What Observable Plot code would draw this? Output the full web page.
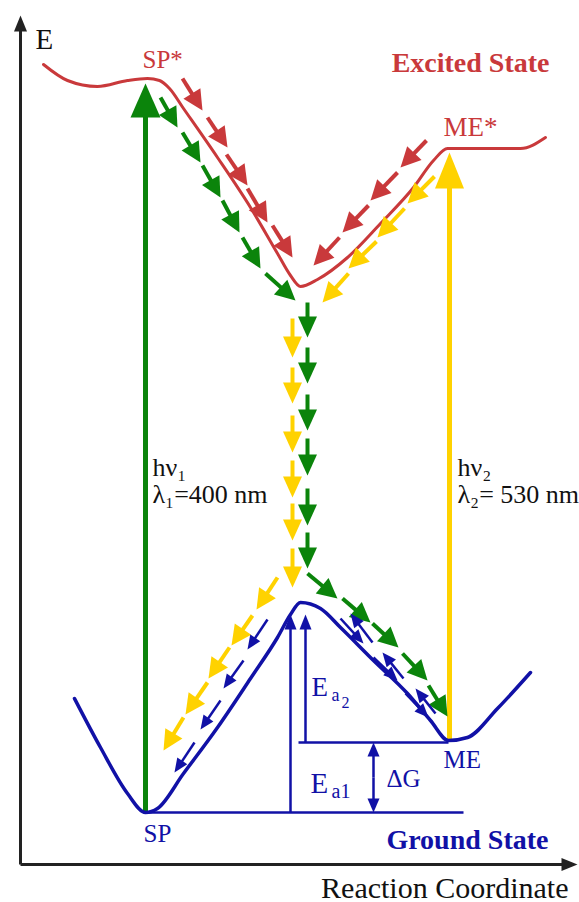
<!DOCTYPE html>
<html><head><meta charset="utf-8">
<script src="https://cdn.jsdelivr.net/npm/d3@7"></script>
<script src="https://cdn.jsdelivr.net/npm/@observablehq/plot@0.6"></script>
<style>body{margin:0;background:#fff}#chart svg{display:block}#chart svg text{font-family:"Liberation Serif",serif !important}</style>
</head><body><div id="chart"></div>
<script>
// Reaction coordinate (x) and energy (y) readings
const excitedCurve = [[24,800],[48,784],[78,778],[108,784],[128,786],[140,784],[150,776],[164,756],[198,707],[231,657],[258,611],[271,589],[281,578],[298,585],[328,607],[361,641],[394,677],[414,704],[428,716],[451,716],[501,716],[526,727]];
const groundCurve = [[55,166],[81,117],[108,71],[126,52],[138,56],[164,91],[198,137],[231,186],[258,227],[271,250],[281,262],[301,256],[321,237],[354,204],[388,171],[411,144],[429,124],[448,127],[478,156],[511,192]];
const levelLines = [[126,52,444,52],[279,122,429,122]];

// Arrow chains: [tailX, tailY, tipX, tipY]
const redChainA = [[163,786,183,754],[188,747,208,717],[207,710,228,679],[228,676,248,642],[253,639,273,607]];
const redChainB = [[407,724,381,697],[378,692,351,664],[349,659,323,632],[320,627,294,599]];
const greenChainC = [[141,767,158,737],[163,732,181,702],[183,699,201,667],[203,664,220,632],[223,627,241,596],[246,591,276,564]];
const greenChainD = [[288,562,288,527],[288,517,288,481],[288,470,288,434],[288,426,288,389],[288,376,288,339],[288,332,288,296]];
const greenChainE = [[288,291,318,266],[323,266,351,242],[353,241,379,217],[383,211,408,184],[409,179,428,148]];
const yellowChainF = [[415,688,388,661],[385,656,358,627],[357,623,329,596],[329,591,303,562]];
const yellowChainG = [[273,546,273,507],[273,497,273,461],[273,449,273,412],[273,404,273,367],[273,361,273,324],[273,316,273,277]];
const yellowChainH = [[258,287,237,255],[233,249,212,219],[210,217,189,186],[188,182,166,150],[164,147,144,114]];
const blueChainI = [[248,245,228,215],[224,204,204,176],[201,164,181,135],[175,122,155,92]];
const blueChainJ = [[321,246,344,221],[354,207,378,184],[386,171,409,147],[353,222,331,251],[384,186,363,212],[416,151,396,176]];

const excitation1 = [[126,52,126,781]];
const excitation2 = [[430,124,430,712]];
const barriers = [[271,52,271,250],[286,122,286,250]];
const deltaG = [[354,87,354,122],[354,87,354,52]];
const axes = [[1,0,1,849],[1,0,558,0]];

// Labels
const axisLabelsStart = [{t:"E", x:16, y:816}];
const axisLabelsEnd = [{t:"Reaction Coordinate", x:549, y:-33}];
const redLabels = [{t:"SP*", x:123, y:797, s:25},{t:"ME*", x:424, y:729, s:27}];
const excitedTitle = [{t:"Excited State", x:530, y:793}];
const groundTitle = [{t:"Ground State", x:529, y:16}];
const blueLabels = [{t:"SP", x:124, y:23},{t:"ME", x:424, y:97},{t:"ΔG", x:367, y:78}];
const eaMain = [{t:"E", x:292, y:169, s:27},{t:"E", x:291, y:72, s:29}];
const eaSub = [{t:"a", x:312, y:164, s:18},{t:"a1", x:312, y:67, s:20}];
const eaSubSub = [{t:"2", x:322, y:157}];
const photonLeft = [{t:"hν₁", x:133, y:389},{t:"λ₁=400 nm", x:133, y:362}];
const photonRight = [{t:"hν₂", x:438, y:389},{t:"λ₂= 530 nm", x:438, y:362}];

const RED = "#c9393b", GREEN = "#0b840b", YELLOW = "#ffd200", BLUE = "#1111a6", AXIS = "#222";

function tri(len, half) {
  return {draw(ctx) { ctx.moveTo(0, 0); ctx.lineTo(-half, len); ctx.lineTo(half, len); ctx.closePath(); }};
}
function arrows(data, color, sw, len, half) {
  const shafts = data.map(([x1,y1,x2,y2]) => {
    const dx = x2-x1, dy = y2-y1, L = Math.hypot(dx, dy), b = len*0.7;
    return {x1, y1, x2: x2 - dx/L*b, y2: y2 - dy/L*b};
  });
  const heads = data.map(([x1,y1,x2,y2]) => ({x: x2, y: y2, a: Math.atan2(x2-x1, y2-y1)*180/Math.PI}));
  return [
    Plot.link(shafts, {x1:"x1", y1:"y1", x2:"x2", y2:"y2", stroke: color, strokeWidth: sw, strokeLinecap: "butt"}),
    Plot.vector(heads, {x:"x", y:"y", rotate:"a", length: len, anchor:"start", shape: tri(len, half), fill: color, stroke: "none"})
  ];
}
const F = "'Liberation Serif', serif";
function txt(data, opts) {
  return Plot.text(data, {x:"x", y:"y", text:"t", lineAnchor:"bottom", textAnchor:"start", fontFamily: F, ...opts});
}

const plot = Plot.plot({
  width: 579, height: 902, margin: 0,
  x: {domain: [-19, 560], axis: null},
  y: {domain: [-38, 864], axis: null},
  style: {background: "#fff", overflow: "visible", fontFamily: F},
  marks: [
    ...arrows(axes, AXIS, 3, 16, 6.5),
    Plot.link(levelLines, {x1: d=>d[0], y1: d=>d[1], x2: d=>d[2], y2: d=>d[3], stroke: BLUE, strokeWidth: 2.5}),
    ...arrows(barriers, BLUE, 2.5, 15, 6),
    ...arrows(deltaG, BLUE, 2.5, 14, 6),
    ...arrows(excitation1, GREEN, 5, 34, 15),
    ...arrows(excitation2, YELLOW, 5, 36, 14.5),
    Plot.line(excitedCurve, {x: d=>d[0], y: d=>d[1], curve: "monotone-x", stroke: RED, strokeWidth: 3}),
    Plot.line(groundCurve, {x: d=>d[0], y: d=>d[1], curve: "monotone-x", stroke: BLUE, strokeWidth: 3.5}),
    ...arrows(redChainA, RED, 4, 20, 10),
    ...arrows(redChainB, RED, 4, 20, 10),
    ...arrows(greenChainC, GREEN, 4, 20, 10),
    ...arrows(greenChainD, GREEN, 4, 21, 9.5),
    ...arrows(greenChainE, GREEN, 4, 20, 10),
    ...arrows(yellowChainF, YELLOW, 4, 20, 10),
    ...arrows(yellowChainG, YELLOW, 4, 21, 9.5),
    ...arrows(yellowChainH, YELLOW, 4, 20, 10),
    ...arrows(blueChainI, BLUE, 2.5, 14, 6),
    ...arrows(blueChainJ, BLUE, 2.5, 14, 6),
    txt(axisLabelsStart, {fill: "#111", fontSize: 29}),
    txt(axisLabelsEnd, {fill: "#111", fontSize: 30, textAnchor: "end"}),
    txt(redLabels, {fill: RED, fontSize: d => d.s}),
    txt(excitedTitle, {fill: RED, fontSize: 28, fontWeight: "bold", textAnchor: "end"}),
    txt(groundTitle, {fill: BLUE, fontSize: 28, fontWeight: "bold", textAnchor: "end"}),
    txt(blueLabels, {fill: BLUE, fontSize: 25}),
    txt(eaMain, {fill: BLUE, fontSize: d => d.s}),
    txt(eaSub, {fill: BLUE, fontSize: d => d.s}),
    txt(eaSubSub, {fill: BLUE, fontSize: 16}),
    txt(photonLeft, {fill: "#111", fontSize: 26}),
    txt(photonRight, {fill: "#111", fontSize: 26})
  ]
});
document.getElementById("chart").append(plot);
</script></body></html>
